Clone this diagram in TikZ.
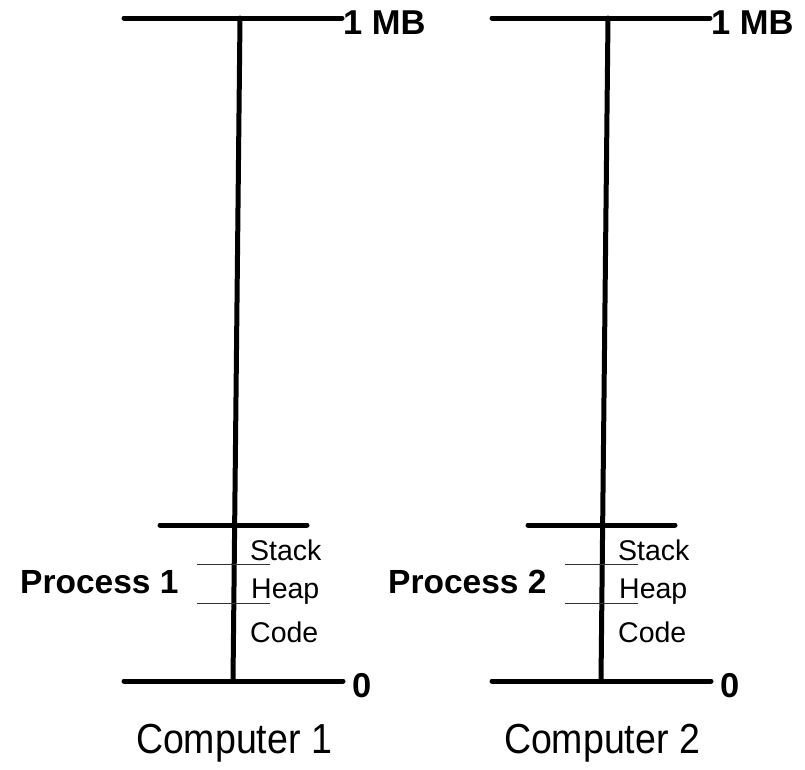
\documentclass[tikz,border=0pt]{standalone}
\usepackage{fontspec}
\setmainfont{Liberation Sans}
\tikzset{
  rail/.style={line width=5pt, line cap=round},
  divider/.style={line width=1pt, black!80},
  bound/.style={font=\fontsize{34.5}{34.5}\selectfont\bfseries, inner sep=0pt},
  segname/.style={font=\fontsize{28.5}{28.5}\selectfont, inner sep=0pt, anchor=base west},
  procname/.style={font=\fontsize{33.5}{33.5}\selectfont\bfseries, inner sep=0pt, anchor=base west},
  machine/.style={font=\fontsize{37.5}{37.5}\selectfont, inner sep=0pt, anchor=base, yscale=1.12}
}

\begin{document}
\begin{tikzpicture}[x=1pt, y=-1pt]
\useasboundingbox (0,0) rectangle (805,769);

\foreach \n/\dx in {1/0, 2/368} {
\begin{scope}[xshift=\dx pt]
% address space 0 .. 1 MB
\coordinate (top\n) at (240,18);
\coordinate (bot\n) at (233,681);
\draw[rail] (124,18) -- (top\n) -- (342,18);
\draw[rail] (124,681) -- (bot\n) -- (343,681);
\draw[rail] (top\n) -- (bot\n);
\node[bound, anchor=west] (mb\n) at (343,23) {1 MB};
\node[bound, anchor=west] (zero\n) at (352,686) {0};
% the process
\draw[rail] (160,525) -- (307,525);
\draw[divider] (197,564) -- (270,564);
\draw[divider] (197,603) -- (270,603);
\node[segname] (stack\n) at (250,560) {Stack};
\node[segname] (heap\n) at (251,598) {Heap};
\node[segname] (code\n) at (250,642) {Code};
\node[procname] (proc\n) at (20,593) {Process \n};
\node[machine] (comp\n) at (234,753) {Computer \n};
\end{scope}
}
\end{tikzpicture}
\end{document}
